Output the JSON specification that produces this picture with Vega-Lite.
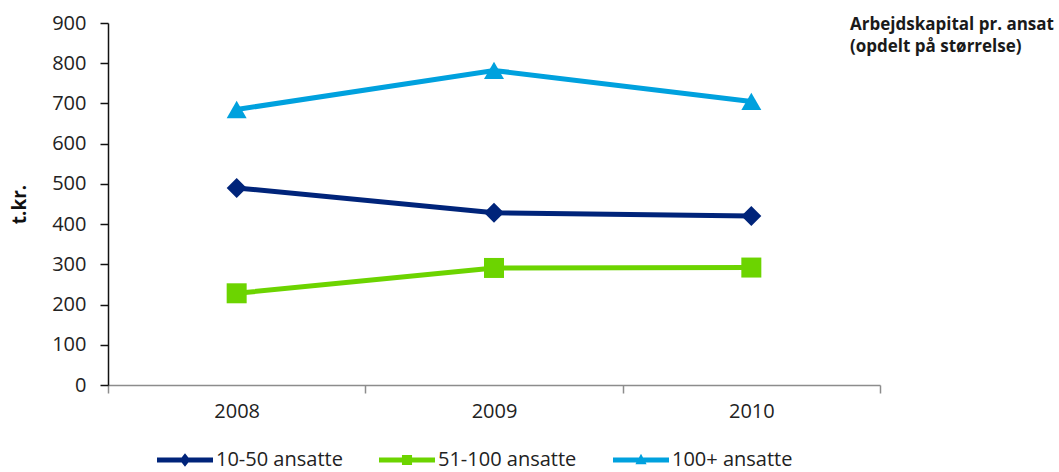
{
  "$schema": "https://vega.github.io/schema/vega-lite/v6.json",
  "width": 772,
  "height": 362,
  "autosize": {"type": "none"},
  "padding": {"left": 108, "top": 23, "right": 179, "bottom": 87},
  "background": "white",
  "config": {"view": {"stroke": null}, "font": "Open Sans"},
  "title": {
    "text": ["Arbejdskapital pr. ansat", "(opdelt på størrelse)"],
    "anchor": "start",
    "frame": "group",
    "dx": 742,
    "baseline": "top",
    "offset": -43,
    "font": "Open Sans",
    "fontSize": 17,
    "fontWeight": "bold",
    "color": "#1a1a1a",
    "lineHeight": 22
  },
  "data": {
    "values": [
      {"year": "2008", "series": "10-50 ansatte", "value": 490},
      {"year": "2009", "series": "10-50 ansatte", "value": 428},
      {"year": "2010", "series": "10-50 ansatte", "value": 420},
      {"year": "2008", "series": "51-100 ansatte", "value": 228},
      {"year": "2009", "series": "51-100 ansatte", "value": 291},
      {"year": "2010", "series": "51-100 ansatte", "value": 292},
      {"year": "2008", "series": "100+ ansatte", "value": 685},
      {"year": "2009", "series": "100+ ansatte", "value": 782},
      {"year": "2010", "series": "100+ ansatte", "value": 705}
    ]
  },
  "encoding": {
    "x": {
      "field": "year",
      "type": "ordinal",
      "scale": {"type": "band", "paddingInner": 0, "paddingOuter": 0},
      "axis": {
        "title": null,
        "labelAngle": 0,
        "labelFont": "Open Sans",
        "labelFontSize": 20,
        "labelColor": "#222222",
        "labelPadding": 8,
        "tickBand": "extent",
        "tickSize": 8,
        "tickColor": "#8c8c8c",
        "domainColor": "#8c8c8c",
        "domainWidth": 1.5,
        "tickWidth": 1.5,
        "grid": false
      }
    },
    "y": {
      "field": "value",
      "type": "quantitative",
      "scale": {"domain": [0, 900], "nice": false},
      "axis": {
        "values": [0, 100, 200, 300, 400, 500, 600, 700, 800, 900],
        "title": "t.kr.",
        "titleFont": "Open Sans",
        "titleFontSize": 19,
        "titleFontWeight": "bold",
        "titleColor": "#111111",
        "titlePadding": 22,
        "labelFont": "Open Sans",
        "labelFontSize": 20,
        "labelColor": "#222222",
        "labelPadding": 14,
        "tickSize": 8,
        "tickColor": "#111111",
        "domainColor": "#111111",
        "domainWidth": 1.5,
        "tickWidth": 1.5,
        "grid": false
      }
    },
    "color": {
      "field": "series",
      "type": "nominal",
      "sort": ["10-50 ansatte", "51-100 ansatte", "100+ ansatte"],
      "scale": {
        "domain": ["10-50 ansatte", "51-100 ansatte", "100+ ansatte"],
        "range": ["#00247a", "#6cd400", "#00a1de"]
      },
      "legend": {
        "title": null,
        "orient": "none",
        "direction": "horizontal",
        "legendX": 49,
        "legendY": 409,
        "padding": 0,
        "symbolSize": 3136,
        "symbolStrokeWidth": 0,
        "labelFont": "Open Sans",
        "labelFontSize": 20,
        "labelColor": "#222222",
        "labelOffset": 3,
        "columnPadding": 36,
        "encode": {
          "symbols": {
            "update": {
              "fill": {"signal": "scale('color', datum.value)"},
              "stroke": {"value": "transparent"},
              "opacity": {"value": 1},
              "shape": {"signal": "datum.value === '10-50 ansatte' ? 'M-1,-0.09L1,-0.09L1,0.09L-1,0.09Z M0,-0.24L0.19,0L0,0.24L-0.19,0Z' : datum.value === '51-100 ansatte' ? 'M-1,-0.09L1,-0.09L1,0.09L-1,0.09Z M-0.18,-0.18L0.18,-0.18L0.18,0.18L-0.18,0.18Z' : 'M-1,-0.09L1,-0.09L1,0.09L-1,0.09Z M0,-0.22L0.2,0.15L-0.2,0.15Z'"}
            }
          }
        }
      }
    }
  },
  "layer": [
    {"mark": {"type": "line", "strokeWidth": 5}},
    {
      "transform": [{"filter": "datum.series === '10-50 ansatte'"}],
      "mark": {"type": "point", "shape": "diamond", "filled": true, "size": 400, "opacity": 1}
    },
    {
      "transform": [{"filter": "datum.series === '51-100 ansatte'"}],
      "mark": {"type": "point", "shape": "square", "filled": true, "size": 400, "opacity": 1}
    },
    {
      "transform": [{"filter": "datum.series === '100+ ansatte'"}],
      "mark": {"type": "point", "shape": "triangle-up", "filled": true, "size": 400, "opacity": 1}
    }
  ]
}
